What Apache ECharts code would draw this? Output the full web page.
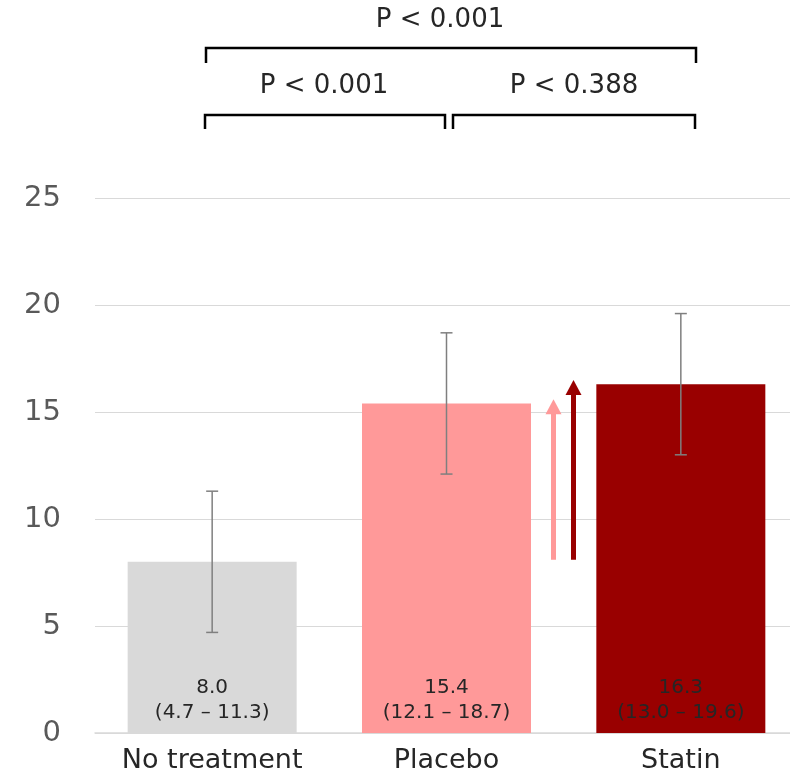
<!DOCTYPE html>
<html>
<head>
<meta charset="utf-8">
<script src="https://cdn.jsdelivr.net/npm/echarts@6/dist/echarts.min.js"></script>
<style>
  html, body { margin: 0; padding: 0; background: #fff; }
  #chart { width: 790px; height: 776px; }
</style>
</head>
<body>
<div id="chart"></div>
<script>
// data
var categories = ['No treatment', 'Placebo', 'Statin']
var means = [8.0, 15.4, 16.3]
var ciLow = [4.7, 12.1, 13.0]
var ciHigh = [11.3, 18.7, 19.6]
var barColors = ['#d9d9d9', '#ff9999', '#990000']
// arrows between placebo and statin: start and tip values
var arrowStart = [8.1, 8.1]
var arrowEnd = [15.6, 16.5]
var arrowColors = ['#ff9999', '#990000']
var yTicks = { min: 0, max: 25, interval: 5 }

var FONT = 'DejaVu Sans'
var chart = echarts.init(document.getElementById('chart'))

var barData = means.map(function (v, i) {
  return {
    value: v,
    itemStyle: { color: barColors[i] },
    label: {
      formatter: v.toFixed(1) + '\n(' + ciLow[i].toFixed(1) + ' \u2013 ' + ciHigh[i].toFixed(1) + ')'
    }
  }
})

var errData = categories.map(function (c, i) {
  return [i, ciLow[i], ciHigh[i]]
})

var arrowData = arrowStart.map(function (v, i) {
  return [1, v, arrowEnd[i], i]
})

chart.setOption({
  animation: false,
  grid: { left: 95, right: -8, top: 198, bottom: 43, outerBoundsMode: 'none', containLabel: false },
  xAxis: {
    type: 'category',
    data: categories,
    axisTick: { show: false },
    axisLine: { lineStyle: { color: '#d9d9d9', width: 1.5 } },
    axisLabel: { interval: 0, hideOverlap: false, color: '#262626', fontFamily: FONT, fontSize: 27, margin: 14 }
  },
  yAxis: {
    type: 'value',
    min: yTicks.min,
    max: yTicks.max,
    interval: yTicks.interval,
    axisLine: { show: false },
    axisTick: { show: false },
    splitLine: { lineStyle: { color: '#d9d9d9', width: 1.2 } },
    axisLabel: { color: '#595959', fontFamily: FONT, fontSize: 29, margin: 34 }
  },
  series: [
    {
      type: 'bar',
      data: barData,
      barWidth: 169,
      label: {
        show: true,
        position: 'insideBottom',
        distance: 8,
        color: '#262626',
        fontFamily: FONT,
        fontSize: 20,
        lineHeight: 25
      }
    },
    {
      type: 'custom',
      data: errData,
      z: 5,
      renderItem: function (params, api) {
        var lo = api.coord([api.value(0), api.value(1)])
        var hi = api.coord([api.value(0), api.value(2)])
        var st = { stroke: '#7f7f7f', lineWidth: 1.5 }
        return {
          type: 'group',
          children: [
            { type: 'line', shape: { x1: lo[0], y1: lo[1], x2: hi[0], y2: hi[1] }, style: st },
            { type: 'line', shape: { x1: lo[0] - 6, y1: lo[1], x2: lo[0] + 6, y2: lo[1] }, style: st },
            { type: 'line', shape: { x1: hi[0] - 6, y1: hi[1], x2: hi[0] + 6, y2: hi[1] }, style: st }
          ]
        }
      }
    },
    {
      type: 'custom',
      data: arrowData,
      z: 6,
      renderItem: function (params, api) {
        var k = api.value(3)
        var off = k === 0 ? 107 : 127
        var a = api.coord([api.value(0), api.value(1)])
        var b = api.coord([api.value(0), api.value(2)])
        var x = a[0] + off
        var col = arrowColors[k]
        return {
          type: 'group',
          children: [
            { type: 'line', shape: { x1: x, y1: a[1], x2: x, y2: b[1] + 12 }, style: { stroke: col, lineWidth: 5 } },
            { type: 'polygon', shape: { points: [[x - 8, b[1] + 15], [x + 8, b[1] + 15], [x, b[1]]] }, style: { fill: col } }
          ]
        }
      }
    }
  ],
  graphic: [
    { type: 'polyline', shape: { points: [[206, 63], [206, 48], [696, 48], [696, 63]] }, style: { stroke: '#000', lineWidth: 2.5, fill: null } },
    { type: 'polyline', shape: { points: [[205, 129], [205, 115], [445, 115], [445, 129]] }, style: { stroke: '#000', lineWidth: 2.5, fill: null } },
    { type: 'polyline', shape: { points: [[453, 129], [453, 115], [695, 115], [695, 129]] }, style: { stroke: '#000', lineWidth: 2.5, fill: null } },
    { type: 'text', x: 440, y: 20, style: { text: 'P < 0.001', font: '26px "DejaVu Sans"', fill: '#262626', align: 'center', verticalAlign: 'middle' } },
    { type: 'text', x: 324, y: 86, style: { text: 'P < 0.001', font: '26px "DejaVu Sans"', fill: '#262626', align: 'center', verticalAlign: 'middle' } },
    { type: 'text', x: 574, y: 86, style: { text: 'P < 0.388', font: '26px "DejaVu Sans"', fill: '#262626', align: 'center', verticalAlign: 'middle' } }
  ]
})
</script>
</body>
</html>
